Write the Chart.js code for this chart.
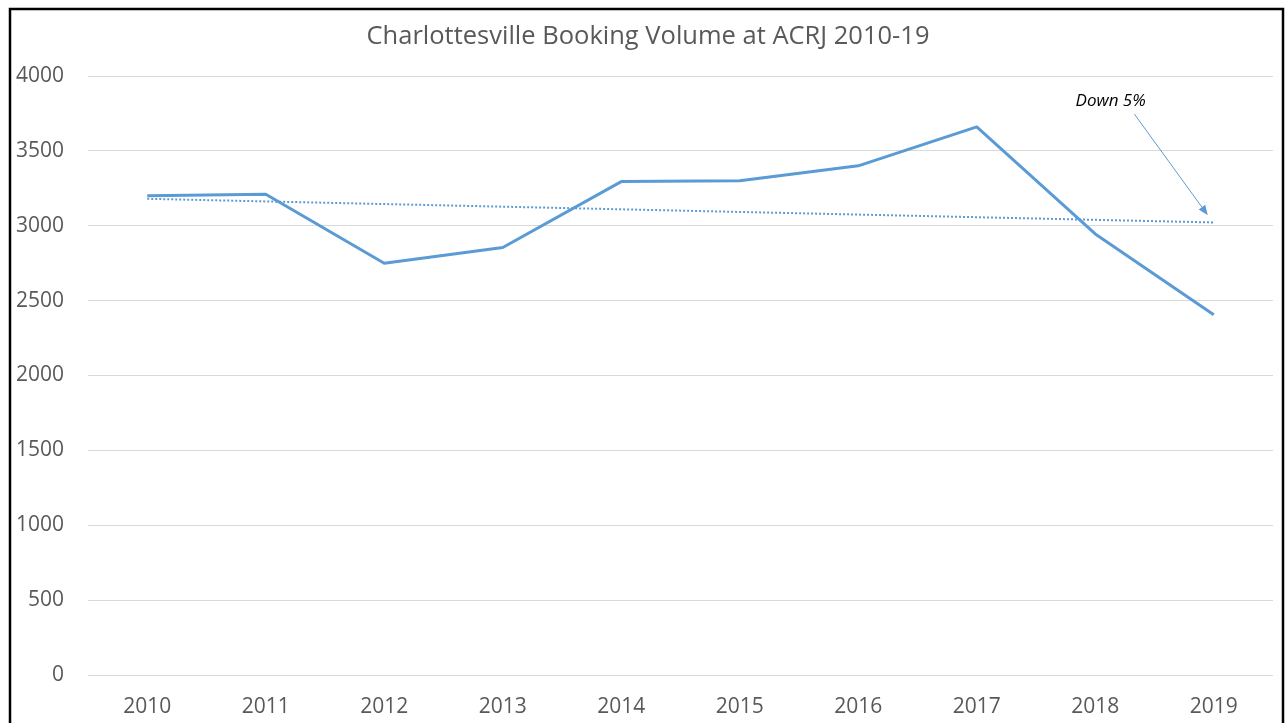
<!DOCTYPE html>
<html>
<head>
<meta charset="utf-8">
<script src="https://cdn.jsdelivr.net/npm/chart.js@4/dist/chart.umd.min.js"></script>
<style>
  html, body { margin: 0; padding: 0; background: #fff; }
  #wrap { width: 1285px; height: 723px; position: relative; }
</style>
</head>
<body>
<div id="wrap"><canvas id="c" width="1285" height="723"></canvas></div>
<script>
const years = ['2010', '2011', '2012', '2013', '2014', '2015', '2016', '2017', '2018', '2019'];
const bookings = [3200, 3210, 2750, 2855, 3295, 3300, 3400, 3660, 2945, 2405];
const trend = [3180, null, null, null, null, null, null, null, null, 3022];
const yTicks = [0, 500, 1000, 1500, 2000, 2500, 3000, 3500, 4000];
const titleText = 'Charlottesville Booking Volume at ACRJ 2010-19';
const noteText = 'Down 5%';

const BLUE = '#5b9bd5';
const TEXT = '#595959';
const FONT = "'Open Sans', 'Noto Sans', sans-serif";

const frame = {
  id: 'frame',
  afterDraw(chart) {
    const ctx = chart.ctx;
    ctx.save();
    ctx.strokeStyle = '#000';
    ctx.lineWidth = 2.5;
    ctx.strokeRect(10, 9, 1273, 800);
    ctx.font = "25.5px " + FONT;
    ctx.fillStyle = TEXT;
    ctx.textAlign = 'center';
    ctx.textBaseline = 'middle';
    ctx.fillText(titleText, 648, 37);
    ctx.restore();
  }
};

const note = {
  id: 'note',
  afterDatasetsDraw(chart) {
    const x = chart.scales.x, y = chart.scales.y, ctx = chart.ctx;
    const px = v => x.getPixelForValue(0) + v * (x.getPixelForValue(1) - x.getPixelForValue(0));
    const tx = px(8.13), ty = y.getPixelForValue(3835);
    const x1 = px(8.33), y1 = y.getPixelForValue(3746);
    const x2 = px(8.95), y2 = y.getPixelForValue(3070);
    ctx.save();
    ctx.font = "italic 17px " + FONT;
    ctx.fillStyle = '#000';
    ctx.textAlign = 'center';
    ctx.textBaseline = 'middle';
    ctx.fillText(noteText, tx, ty);
    ctx.strokeStyle = BLUE;
    ctx.fillStyle = BLUE;
    ctx.lineWidth = 1;
    const ang = Math.atan2(y2 - y1, x2 - x1);
    const hl = 10, hw = 4;
    const bx = x2 - hl * Math.cos(ang), by = y2 - hl * Math.sin(ang);
    ctx.beginPath();
    ctx.moveTo(x1, y1);
    ctx.lineTo(bx, by);
    ctx.stroke();
    ctx.beginPath();
    ctx.moveTo(x2, y2);
    ctx.lineTo(bx + hw * Math.sin(ang), by - hw * Math.cos(ang));
    ctx.lineTo(bx - hw * Math.sin(ang), by + hw * Math.cos(ang));
    ctx.closePath();
    ctx.fill();
    ctx.restore();
  }
};

new Chart(document.getElementById('c'), {
  type: 'line',
  data: {
    labels: years,
    datasets: [
      {
        label: 'Bookings',
        data: bookings,
        borderColor: BLUE,
        borderWidth: 3,
        pointRadius: 0,
        tension: 0,
        borderJoinStyle: 'round',
        order: 1
      },
      {
        label: 'Trend',
        data: trend,
        spanGaps: true,
        borderColor: BLUE,
        borderWidth: 2,
        borderDash: [2, 2],
        pointRadius: 0,
        tension: 0,
        order: 2
      }
    ]
  },
  options: {
    responsive: false,
    animation: false,
    events: [],
    layout: { padding: { left: 6, right: 12, top: 76, bottom: 0 } },
    plugins: {
      legend: { display: false },
      tooltip: { enabled: false },
      title: { display: false }
    },
    scales: {
      x: {
        offset: true,
        grid: { display: false, drawTicks: false },
        border: { display: false },
        ticks: { color: TEXT, font: { family: FONT, size: 21 }, padding: 19, maxRotation: 0 },
        afterFit(s) { s.height = 48; }
      },
      y: {
        min: 0,
        max: 4000,
        afterBuildTicks(s) { s.ticks = yTicks.map(v => ({ value: v })); },
        grid: { color: '#d9d9d9', lineWidth: 1, drawTicks: false },
        border: { display: false },
        ticks: { color: TEXT, font: { family: FONT, size: 21 }, padding: 24, callback: v => String(v) },
        afterFit(s) { s.width = 82; }
      }
    }
  },
  plugins: [frame, note]
});
</script>
</body>
</html>
